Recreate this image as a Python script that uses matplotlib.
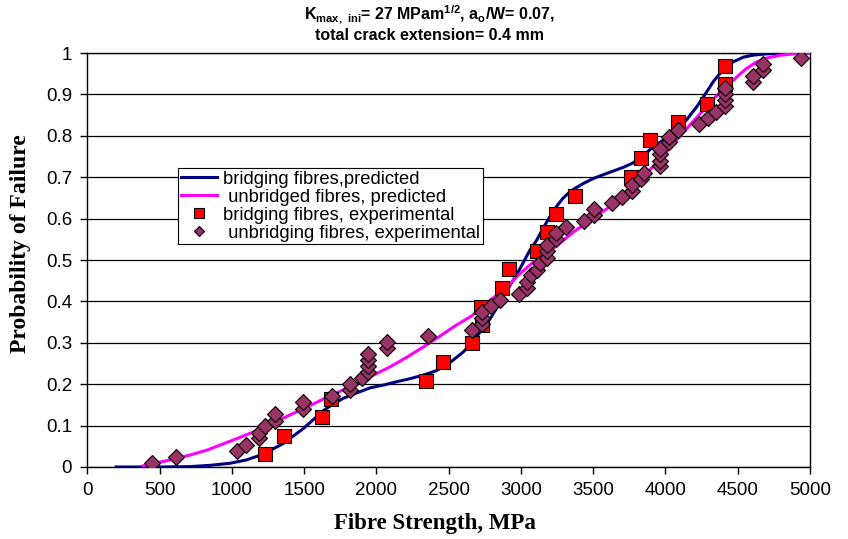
import numpy as np
import matplotlib
matplotlib.use('Agg')
import matplotlib.pyplot as plt
from matplotlib.lines import Line2D

plt.rcParams['font.family'] = ['Liberation Sans', 'DejaVu Sans']
plt.rcParams['mathtext.fontset'] = 'custom'
plt.rcParams['mathtext.rm'] = 'Liberation Sans:bold'
plt.rcParams['mathtext.bf'] = 'Liberation Sans:bold'
plt.rcParams['mathtext.default'] = 'bf'

# predicted curves
bridge_x = [200, 500, 711, 850, 988, 1100, 1218, 1357, 1495, 1633, 1700, 1772, 1864, 1956,
            2050, 2141, 2230, 2325, 2410, 2487, 2545, 2602, 2650, 2695, 2740, 2787, 2833,
            2879, 2925, 2972, 3020, 3063, 3110, 3156, 3202, 3250, 3294, 3340, 3375, 3433,
            3502, 3570, 3640, 3710, 3779, 3850, 3917, 4000, 4079, 4150, 4217, 4280, 4332,
            4400, 4471, 4540, 4609, 4700, 4792, 4900, 4990]
bridge_p = [0.0, 0.0, 0.001, 0.004, 0.009, 0.017, 0.031, 0.057, 0.093, 0.136, 0.152, 0.166,
            0.179, 0.191, 0.198, 0.206, 0.213, 0.222, 0.232, 0.246, 0.262, 0.278, 0.296,
            0.315, 0.337, 0.358, 0.384, 0.411, 0.439, 0.465, 0.496, 0.524, 0.548, 0.578,
            0.605, 0.631, 0.650, 0.665, 0.673, 0.685, 0.697, 0.706, 0.715, 0.724, 0.735,
            0.753, 0.774, 0.793, 0.814, 0.840, 0.870, 0.903, 0.931, 0.960, 0.979, 0.990,
            0.995, 0.998, 0.999, 1.0, 1.0]

unbr_x = [388, 480, 600, 711, 830, 941, 1060, 1172, 1290, 1403, 1520, 1633, 1750, 1864, 1980,
          2095, 2210, 2325, 2440, 2550, 2660, 2740, 2833, 2910, 2972, 3063, 3140, 3202, 3300,
          3364, 3433, 3520, 3617, 3700, 3780, 3848, 3917, 4000, 4079, 4170, 4263, 4345, 4425,
          4500, 4563, 4630, 4702, 4800, 4886, 4990]
unbr_p = [0.003, 0.010, 0.019, 0.029, 0.041, 0.056, 0.072, 0.088, 0.107, 0.126, 0.145, 0.164,
          0.183, 0.202, 0.222, 0.242, 0.265, 0.290, 0.316, 0.342, 0.365, 0.390, 0.415, 0.437,
          0.460, 0.488, 0.508, 0.522, 0.549, 0.568, 0.584, 0.606, 0.629, 0.651, 0.676, 0.701,
          0.727, 0.757, 0.790, 0.826, 0.862, 0.893, 0.919, 0.944, 0.963, 0.978, 0.988, 0.995,
          0.998, 1.0]

# experimental points
bridge_exp_x = [1230, 1361, 1622, 1684, 2342, 2464, 2660, 2729, 2722, 2868, 2920, 3110, 3179,
                3244, 3375, 3763, 3830, 3894, 4090, 4291, 4413, 4413]
bridge_exp_p = [0.031, 0.075, 0.120, 0.164, 0.208, 0.253, 0.299, 0.343, 0.387, 0.433, 0.478,
                0.522, 0.567, 0.611, 0.655, 0.701, 0.746, 0.790, 0.834, 0.878, 0.924, 0.969]

unbr_exp_x = [450, 615, 1034, 1098, 1190, 1190, 1230, 1299, 1299, 1491, 1491, 1690, 1818, 1818,
              1900, 1945, 1945, 1945, 1945, 2074, 2074, 2355, 2660, 2729, 2729, 2729, 2792,
              2856, 2988, 3045, 3045, 3068, 3114, 3133, 3179, 3179, 3179, 3244, 3244, 3311,
              3437, 3505, 3505, 3633, 3698, 3767, 3767, 3832, 3853, 3963, 3963, 3963, 3963,
              4026, 4026, 4090, 4236, 4298, 4351, 4413, 4413, 4413, 4413, 4609, 4609, 4674,
              4678, 4937]
unbr_exp_p = [0.010, 0.025, 0.039, 0.054, 0.069, 0.083, 0.098, 0.112, 0.127, 0.141, 0.156,
              0.171, 0.185, 0.200, 0.215, 0.229, 0.244, 0.258, 0.273, 0.287, 0.302, 0.317,
              0.331, 0.346, 0.360, 0.375, 0.390, 0.404, 0.419, 0.433, 0.448, 0.463, 0.477,
              0.492, 0.506, 0.521, 0.536, 0.550, 0.565, 0.580, 0.594, 0.609, 0.623, 0.638,
              0.653, 0.667, 0.682, 0.696, 0.711, 0.726, 0.740, 0.755, 0.769, 0.784, 0.798,
              0.813, 0.828, 0.842, 0.857, 0.871, 0.886, 0.901, 0.915, 0.930, 0.944, 0.959,
              0.974, 0.988]

fig = plt.figure(figsize=(8.48, 5.39), dpi=100)
ax = fig.add_axes([0.103, 0.1336, 0.852, 0.768])

ax.set_xlim(0, 5000)
ax.set_ylim(0, 1)
ax.set_xticks(np.arange(0, 5001, 500))
ax.set_yticks(np.arange(0, 1.01, 0.1))
ax.set_yticklabels(['0', '0.1', '0.2', '0.3', '0.4', '0.5', '0.6', '0.7', '0.8', '0.9', '1'])
ax.yaxis.grid(True, color='black', lw=0.9)
ax.set_axisbelow(True)
ax.tick_params(direction='out', length=5, width=1, labelsize=13.5, pad=6)
for s in ax.spines.values():
    s.set_linewidth(1.0)

ax.plot(bridge_x, bridge_p, color='#000080', lw=2.2, zorder=3)
ax.plot(unbr_x, unbr_p, color='#FF00FF', lw=2.2, zorder=3)
ax.plot(bridge_exp_x, bridge_exp_p, 's', color='#FF0000', mec='black', mew=0.8, ms=10, zorder=4)
ax.plot(unbr_exp_x, unbr_exp_p, 'D', color='#993366', mec='black', mew=0.8, ms=7.8, zorder=5)

fig.text(0.513, 1 - 523 / 539, 'Fibre Strength, MPa', family='Liberation Serif', weight='bold',
         fontsize=16.5, ha='center', va='center')
fig.text(0.024, 1 - 244 / 539, 'Probability of Failure', family='Liberation Serif', weight='bold',
         fontsize=17, ha='center', va='center', rotation=90)

fig.text(0.507, 0.993, r'K$_{max,\ ini}$= 27 MPam$^{1/2}$, a$_{o}$/W= 0.07,' + '\n' +
         'total crack extension= 0.4 mm', ha='center', va='top', fontsize=11.5,
         weight='bold', linespacing=1.2)

handles = [Line2D([], [], color='#000080', lw=2.2),
           Line2D([], [], color='#FF00FF', lw=2.2),
           Line2D([], [], ls='none', marker='s', color='#FF0000', mec='black', mew=0.8, ms=7),
           Line2D([], [], ls='none', marker='D', color='#993366', mec='black', mew=0.8, ms=5.5)]
labels = ['bridging fibres,predicted', ' unbridged fibres, predicted',
          'bridging fibres, experimental', ' unbridging fibres, experimental']
leg = ax.legend(handles, labels, loc='upper left', bbox_to_anchor=(0.1255, 0.722),
                borderaxespad=0, fontsize=13.2, frameon=True, fancybox=False,
                edgecolor='black', framealpha=1, handlelength=2.0, handletextpad=0.3,
                labelspacing=0.05, borderpad=0.15)
leg.get_frame().set_linewidth(0.8)

fig.savefig('out.png', dpi=100)
